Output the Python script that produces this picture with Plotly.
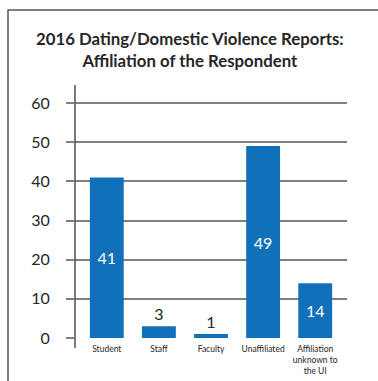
import plotly.graph_objects as go

# Reports by respondent affiliation
categories = ["Student", "Staff", "Faculty", "Unaffiliated", "Affiliation<br>unknown to<br>the UI"]
reports = [41, 3, 1, 49, 14]
label_pos = ["inside", "outside", "outside", "inside", "inside"]
y_ticks = [0, 10, 20, 30, 40, 50, 60]

FONT = "Lato"
BAR = "#1170BA"
GRID = "#808080"
DARK = "#262626"

W, H = 378, 381
L, R, T, B = 75, 31, 85, 43
PW, PH = W - L - R, H - T - B

fig = go.Figure(
    go.Bar(
        x=list(range(len(categories))),
        y=reports,
        marker=dict(color=BAR, line=dict(width=0)),
        width=0.65,
        text=[str(v) for v in reports],
        textposition=label_pos,
        insidetextanchor="middle",
        insidetextfont=dict(color="white", size=16, family=FONT),
        outsidetextfont=dict(color=DARK, size=16, family=FONT),
        constraintext="none",
        cliponaxis=False,
    )
)

fig.update_layout(
    width=W,
    height=H,
    margin=dict(l=L, r=R, t=T, b=B, autoexpand=False),
    paper_bgcolor="white",
    plot_bgcolor="white",
    showlegend=False,
    font=dict(family=FONT, color=DARK),
)

# two-line bold heading
fig.add_annotation(
    text="<b>2016 Dating/Domestic Violence Reports:<br>Affiliation of the Respondent</b>",
    font=dict(size=16.8, family=FONT, color=DARK),
    xref="paper", yref="paper",
    x=(190 - L) / PW, xanchor="center",
    y=(H - B - 26) / PH, yanchor="top",
    showarrow=False,
    align="center",
)

fig.update_xaxes(
    tickmode="array",
    tickvals=list(range(len(categories))),
    ticktext=categories,
    range=[-0.61, 4.61],
    showgrid=False,
    zeroline=False,
    showline=False,
    ticks="",
    automargin=False,
    ticklabelstandoff=4,
    tickfont=dict(size=8.5, family=FONT, color=DARK),
)

fig.update_yaxes(
    range=[0, 64.6],
    tickvals=y_ticks,
    showgrid=True,
    gridcolor=GRID,
    gridwidth=1.5,
    zeroline=False,
    showline=False,
    ticks="outside",
    ticklen=8,
    tickwidth=1.5,
    tickcolor=GRID,
    automargin=False,
    ticklabelstandoff=13,
    tickfont=dict(size=16, family=FONT, color=DARK),
)

# vertical axis line running a little past both ends of the value range
fig.add_shape(
    type="line", xref="paper", yref="paper",
    x0=0, x1=0, y0=-10 / PH, y1=1,
    line=dict(color="#4d4d4d", width=1.5),
)

# outer frame
fig.add_shape(
    type="rect", xref="paper", yref="paper",
    x0=(8 - L) / PW, x1=(W + 20 - L) / PW,
    y0=-0.3, y1=(H - B - 10) / PH,
    line=dict(color="#555555", width=1.5),
    fillcolor="rgba(0,0,0,0)",
)

fig.write_html("out.html")
